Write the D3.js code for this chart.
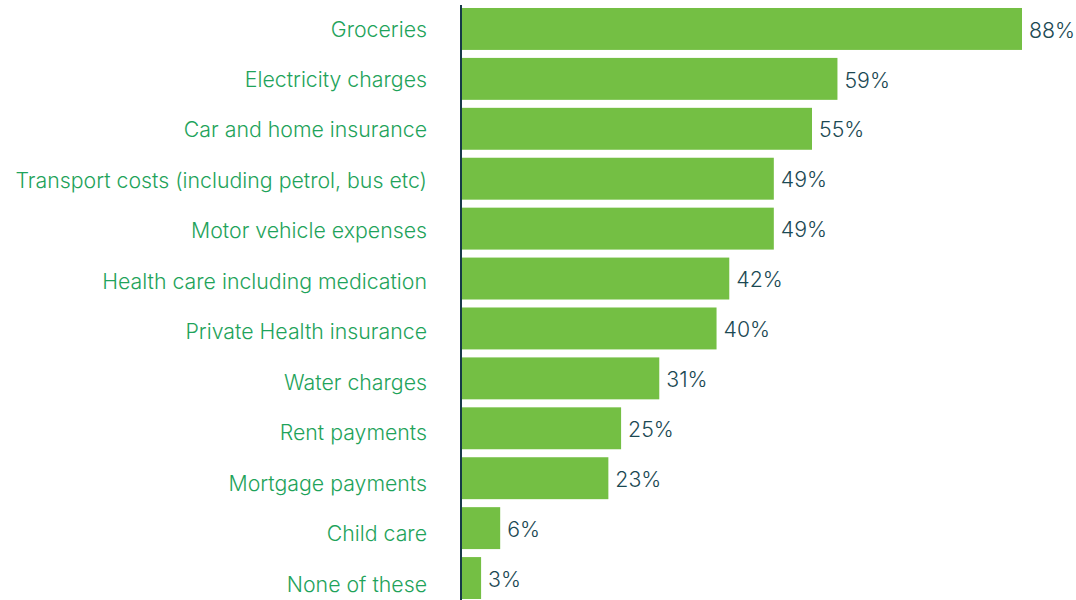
<!DOCTYPE html>
<html>
<head>
<meta charset="utf-8">
<script src="https://cdn.jsdelivr.net/npm/d3@7"></script>
<style>
  html, body { margin: 0; padding: 0; background: #ffffff; }
  svg { display: block; }
</style>
</head>
<body>
<svg id="chart" width="1076" height="600"></svg>
<script>
// Share of respondents by expense category
const categories = [
  "Groceries",
  "Electricity charges",
  "Car and home insurance",
  "Transport costs (including petrol, bus etc)",
  "Motor vehicle expenses",
  "Health care including medication",
  "Private Health insurance",
  "Water charges",
  "Rent payments",
  "Mortgage payments",
  "Child care",
  "None of these"
];
const values = [88, 59, 55, 49, 49, 42, 40, 31, 25, 23, 6, 3];

const svg = d3.select("#chart");
const axisX = 461;
const barStart = 462;

const x = d3.scaleLinear().domain([0, 88]).range([barStart, 1022]);
const y = d3.scaleBand()
  .domain(categories)
  .range([4, 603])
  .paddingInner(0.16)
  .paddingOuter(0.08);
// category labels sit on their own, slightly looser grid
const labelY = d3.scalePoint()
  .domain(categories)
  .range([28.8, 583.7]);

const font = "Inter, Lato, sans-serif";
const fontSize = 21.3;

// bars
svg.append("g").selectAll("rect")
  .data(categories)
  .join("rect")
  .attr("x", barStart)
  .attr("y", d => y(d))
  .attr("width", (d, i) => x(values[i]) - barStart)
  .attr("height", y.bandwidth())
  .attr("fill", "#74bf44");

// category labels
svg.append("g").selectAll("text")
  .data(categories)
  .join("text")
  .attr("x", axisX - 34)
  .attr("y", d => labelY(d) + 7.8)
  .attr("text-anchor", "end")
  .attr("font-family", font)
  .attr("font-weight", 300)
  .attr("font-size", fontSize)
  .attr("fill", "#1fa35b")
  .text(d => d);

// value labels
svg.append("g").selectAll("text")
  .data(categories)
  .join("text")
  .attr("x", (d, i) => x(values[i]) + 7)
  .attr("y", d => y(d) + y.bandwidth() / 2 + 8.7)
  .attr("font-family", font)
  .attr("font-weight", 300)
  .attr("font-size", fontSize)
  .attr("fill", "#1b4953")
  .text((d, i) => values[i] + "%");

// vertical axis line
svg.append("line")
  .attr("x1", axisX).attr("x2", axisX)
  .attr("y1", 5).attr("y2", 600)
  .attr("stroke", "#173a48")
  .attr("stroke-width", 2);
</script>
</body>
</html>
